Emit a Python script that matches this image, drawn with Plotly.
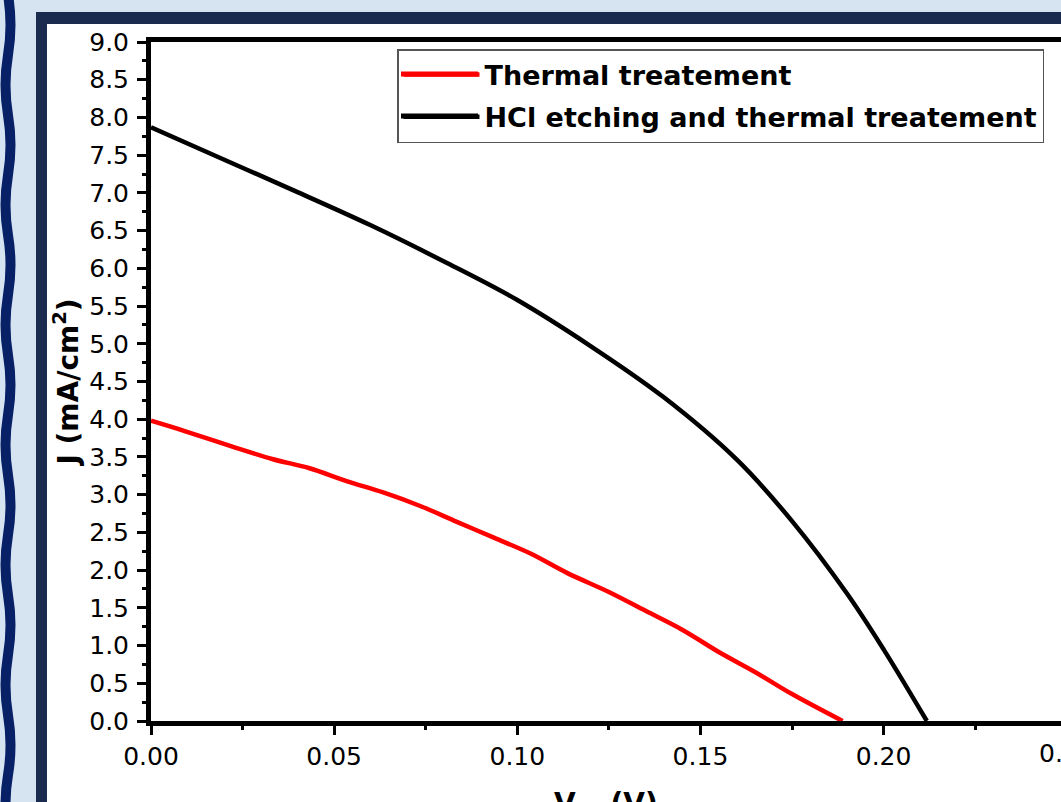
import plotly.graph_objects as go

# ---------------- data ----------------
V_thermal = [0.0, 0.0094, 0.022, 0.0333, 0.0433, 0.0534, 0.0634, 0.0735, 0.0835, 0.0936,
             0.1036, 0.1137, 0.125, 0.135, 0.145, 0.155, 0.165, 0.175, 0.1888]
J_thermal = [3.98, 3.84, 3.64, 3.47, 3.35, 3.18, 3.03, 2.85, 2.64, 2.43,
             2.22, 1.96, 1.71, 1.46, 1.21, 0.915, 0.647, 0.357, 0.0]

V_hcl = [0.0, 0.02, 0.04, 0.06, 0.08, 0.10, 0.12, 0.14, 0.16, 0.175, 0.19, 0.20, 0.2118]
J_hcl = [7.87, 7.44, 7.01, 6.57, 6.09, 5.58, 4.97, 4.29, 3.46, 2.65, 1.69, 0.95, 0.0]

series_names = ["Thermal treatement", "HCl etching and thermal treatement"]
series_colors = ["#ff0000", "#000000"]

x_title = "<b>V<sub>oc</sub> (V)</b>"
y_title = "<b>J (mA/cm<sup>2</sup>)</b>"

# ---------------- geometry ----------------
W, H = 1061, 802
ML, MR, MT, MB = 151, 0, 42, 81
PW, PH = W - ML - MR, H - MT - MB
X_MAX = PW / 3663.0   # px per volt ~3663
Y_MAX = 9.0
TICK_FONT = dict(family="DejaVu Sans", size=25, color="black")


def px(x):
    return (x - ML) / PW


def py(y):
    return (H - MB - y) / PH


fig = go.Figure()
for i, (V, J) in enumerate([(V_thermal, J_thermal), (V_hcl, J_hcl)]):
    fig.add_trace(go.Scatter(x=V, y=J, mode="lines", name=series_names[i],
                             legendgroup="g%d" % i,
                             line=dict(color=series_colors[i], width=4.5,
                                       shape="spline", smoothing=1.0)))

shapes = []
# slide decoration: navy frame + white panel
shapes.append(dict(type="rect", xref="paper", yref="paper", layer="below",
                   x0=px(36), x1=px(W + 5), y0=py(12), y1=py(H + 5),
                   fillcolor="#1b2b50", line=dict(width=0)))
shapes.append(dict(type="rect", xref="paper", yref="paper", layer="below",
                   x0=px(47), x1=px(W + 5), y0=py(24), y1=py(H + 5),
                   fillcolor="#ffffff", line=dict(width=0)))
# wavy line on the left
path = "M %.5f,%.5f" % (px(8), py(-5))
y = -5.0
half = 60.0
sign = 1
while y < H + 10:
    yc = y + half / 2
    y2 = y + half
    path += " Q %.5f,%.5f %.5f,%.5f" % (px(8 + sign * 5), py(yc), px(8), py(y2))
    y = y2
    sign = -sign
shapes.append(dict(type="path", xref="paper", yref="paper", layer="below", path=path,
                   line=dict(color="#082066", width=10)))

# legend sample lines (longer than plotly's default)
for yy, col in [(74, series_colors[0]), (116, series_colors[1])]:
    shapes.append(dict(type="line", xref="paper", yref="paper", layer="above",
                       x0=px(401), x1=px(478), y0=py(yy), y1=py(yy),
                       line=dict(color=col, width=5)))

annotations = [
    dict(text="0.25", xref="paper", yref="paper", x=px(1067), y=0,
         yshift=-16, xanchor="center", yanchor="top", showarrow=False, font=TICK_FONT),
    dict(text=x_title, xref="paper", yref="paper", x=0.5, y=0, yshift=-64,
         xanchor="center", yanchor="top", showarrow=False,
         font=dict(family="DejaVu Sans", size=28, color="black")),
]

fig.update_layout(
    template="none",
    width=W, height=H,
    margin=dict(l=ML, r=MR, t=MT, b=MB, pad=0),
    paper_bgcolor="#d6e4f2",
    plot_bgcolor="rgba(0,0,0,0)",
    shapes=shapes,
    annotations=annotations,
    showlegend=True,
    legend=dict(x=px(397), y=py(49), xanchor="left", yanchor="top",
                bgcolor="rgba(0,0,0,0)", bordercolor="#555555", borderwidth=1.5,
                font=dict(family="DejaVu Sans", size=27, weight="bold", color="black"),
                itemwidth=76, tracegroupgap=4, traceorder="grouped"),
    xaxis=dict(range=[0, X_MAX], showgrid=False, zeroline=False, automargin=False,
               showline=True, linecolor="black", linewidth=5, mirror=True,
               ticks="outside", ticklen=9, tickwidth=3, tickcolor="black",
               tickmode="linear", tick0=0, dtick=0.05, tickformat=".2f",
               minor=dict(ticks="outside", ticklen=4, tickwidth=3, tickcolor="black",
                          dtick=0.025, tick0=0, showgrid=False),
               tickfont=TICK_FONT),
    yaxis=dict(range=[0, Y_MAX], showgrid=False, zeroline=False, automargin=False,
               showline=True, linecolor="black", linewidth=5, mirror=False,
               ticks="outside", ticklen=9, tickwidth=3, tickcolor="black",
               tickmode="linear", tick0=0, dtick=0.5, tickformat=".1f",
               ticklabelstandoff=3,
               minor=dict(ticks="outside", ticklen=4, tickwidth=3, tickcolor="black",
                          dtick=0.25, tick0=0, showgrid=False),
               tickfont=TICK_FONT,
               title=dict(text=y_title, standoff=4,
                          font=dict(family="DejaVu Sans", size=28, color="black"))),
)

fig.write_html("out.html")
